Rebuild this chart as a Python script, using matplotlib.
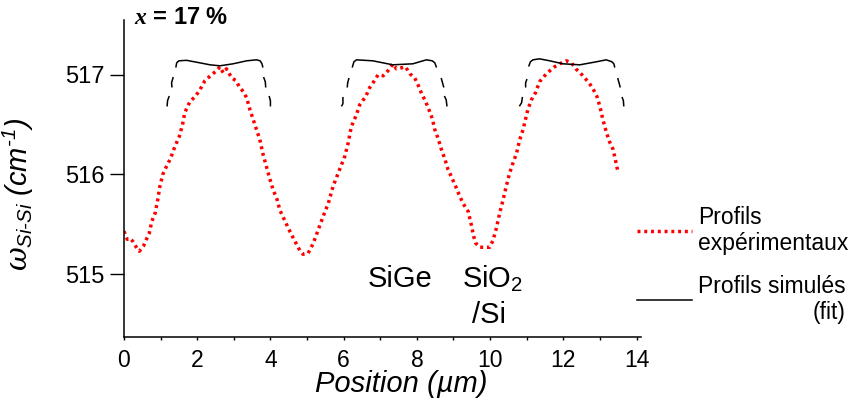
import numpy as np
import matplotlib
matplotlib.use("Agg")
import matplotlib.pyplot as plt

plt.rcParams['font.family'] = ['Liberation Sans', 'DejaVu Sans']
plt.rcParams['mathtext.fontset'] = 'custom'
plt.rcParams['mathtext.it'] = 'DejaVu Serif:italic'
plt.rcParams['mathtext.rm'] = 'Liberation Sans:italic'
plt.rcParams['mathtext.sf'] = 'Liberation Sans'
plt.rcParams['mathtext.bf'] = 'Liberation Serif:italic:bold'

nan = np.nan

# Experimental profile (red dotted)
exp_x = [0.0, 0.09, 0.16, 0.24, 0.32, 0.42, 0.53, 0.60, 0.69, 0.76, 0.85, 0.92, 0.98,
         1.06, 1.16, 1.27, 1.39, 1.51, 1.60, 1.66, 1.80, 1.94, 2.06, 2.21, 2.39, 2.53,
         2.62, 2.71, 2.80, 2.94, 3.06, 3.15, 3.26, 3.35, 3.44, 3.53, 3.62, 3.71, 3.80,
         3.89, 3.98, 4.07, 4.18, 4.26, 4.39, 4.53, 4.67, 4.80, 4.89, 5.03, 5.17, 5.30,
         5.44, 5.58, 5.71, 5.90, 6.03, 6.12, 6.21, 6.35, 6.44, 6.60, 6.71, 6.82, 6.94,
         7.08, 7.21, 7.35, 7.44, 7.58, 7.69, 7.81, 7.94, 8.03, 8.12, 8.24, 8.35, 8.42,
         8.49, 8.58, 8.67, 8.76, 8.85, 8.94, 9.06, 9.15, 9.26, 9.40, 9.49, 9.55, 9.61,
         9.72, 9.85, 9.99, 10.08, 10.17, 10.26, 10.35, 10.44, 10.53, 10.62, 10.72, 10.81,
         10.90, 10.97, 11.03, 11.13, 11.24, 11.35, 11.49, 11.63, 11.76, 11.90, 12.08,
         12.22, 12.34, 12.46, 12.58, 12.70, 12.81, 12.92, 13.00, 13.08, 13.17, 13.26,
         13.36, 13.43, 13.49]
exp_y = [515.43, 515.35, 515.36, 515.33, 515.28, 515.23, 515.28, 515.34, 515.41, 515.53,
         515.61, 515.74, 515.88, 516.00, 516.08, 516.16, 516.28, 516.38, 516.50, 516.62,
         516.73, 516.78, 516.84, 516.94, 517.00, 517.04, 517.08, 517.02, 517.06, 516.97,
         516.94, 516.88, 516.83, 516.77, 516.65, 516.55, 516.45, 516.35, 516.20, 516.08,
         515.96, 515.85, 515.75, 515.64, 515.54, 515.43, 515.33, 515.24, 515.20, 515.21,
         515.31, 515.44, 515.58, 515.71, 515.88, 516.06, 516.18, 516.31, 516.48, 516.60,
         516.70, 516.78, 516.87, 516.93, 517.00, 516.99, 517.04, 517.11, 517.06, 517.07,
         517.08, 517.01, 516.97, 516.90, 516.82, 516.73, 516.63, 516.56, 516.45, 516.36,
         516.25, 516.16, 516.05, 515.98, 515.88, 515.80, 515.71, 515.63, 515.49, 515.38,
         515.31, 515.27, 515.27, 515.27, 515.34, 515.46, 515.61, 515.74, 515.88, 516.01,
         516.11, 516.21, 516.35, 516.45, 516.56, 516.65, 516.75, 516.82, 516.93, 516.99,
         517.04, 517.08, 517.11, 517.14, 517.12, 517.06, 517.02, 516.97, 516.92, 516.86,
         516.78, 516.68, 516.55, 516.43, 516.33, 516.25, 516.13, 516.03]

# Simulated (fit) profiles, three SiGe lines; NaN = gaps in drawn curve
fit1_x = [1.18, 1.19, 1.23, nan, 1.31, 1.30, 1.34, nan,
          1.42, 1.44, 1.50, 1.71, 2.07, 2.35, 2.62, 2.98, 3.35, 3.62, 3.72, 3.77, 3.79, nan,
          3.82, 3.86, 3.87, nan, 3.97, 4.00, 4.00]
fit1_y = [516.69, 516.74, 516.78, nan, 516.88, 516.92, 516.97, nan,
          517.08, 517.12, 517.14, 517.145, 517.12, 517.10, 517.09, 517.11, 517.14, 517.15,
          517.14, 517.11, 517.08, nan,
          516.97, 516.93, 516.88, nan, 516.78, 516.74, 516.69]
fit2_x = [5.95, 5.98, 5.98, nan, 6.10, 6.11, 6.14, nan,
          6.24, 6.28, 6.35, 6.80, 7.34, 7.89, 8.26, 8.42, 8.49, 8.53, nan,
          8.67, 8.70, 8.73, nan, 8.76, 8.80, 8.82]
fit2_y = [516.69, 516.71, 516.77, nan, 516.88, 516.92, 516.96, nan,
          517.08, 517.13, 517.15, 517.14, 517.10, 517.11, 517.15, 517.14, 517.12, 517.08, nan,
          516.96, 516.92, 516.88, nan, 516.78, 516.75, 516.69]
fit3_x = [10.81, 10.86, 10.88, nan, 10.97, 10.97, 11.00, nan,
          11.06, 11.10, 11.17, 11.35, 11.63, 11.99, 12.45, 12.90, 13.17, 13.33, 13.38, 13.40, nan,
          13.49, 13.52, 13.55, nan, 13.61, 13.64, 13.65]
fit3_y = [516.69, 516.72, 516.77, nan, 516.88, 516.92, 516.95, nan,
          517.09, 517.13, 517.15, 517.16, 517.14, 517.11, 517.10, 517.13, 517.15, 517.13,
          517.11, 517.08, nan,
          516.96, 516.92, 516.88, nan, 516.77, 516.74, 516.69]

x_ticks = [0, 2, 4, 6, 8, 10, 12, 14]
y_ticks = [515, 516, 517]
label_exp = "Profils\nexpérimentaux"
label_fit = "Profils simulés\n(fit)"

fig = plt.figure(figsize=(8.52, 4.07), dpi=100)
ax = fig.add_axes([0.1455, 0.172, 0.6068, 0.779])

l_exp, = ax.plot(exp_x, exp_y, color='red', lw=2.5, linestyle=(0, (0.85, 1.1)),
                 label=label_exp)
l_fit, = ax.plot(fit1_x, fit1_y, color='black', lw=1.1, label=label_fit)
ax.plot(fit2_x, fit2_y, color='black', lw=1.1)
ax.plot(fit3_x, fit3_y, color='black', lw=1.1)

ax.set_xlim(0, 14.12)
ax.set_ylim(514.37, 517.55)
ax.set_xticks(x_ticks)
ax.set_xticks(np.arange(1, 14, 2), minor=True)
ax.set_yticks(y_ticks)
for s in ['top', 'right']:
    ax.spines[s].set_visible(False)
for s in ['left', 'bottom']:
    ax.spines[s].set_linewidth(1.1)
ax.tick_params(axis='y', which='major', length=10, width=1.0, pad=4, labelsize=17)
ax.tick_params(axis='x', which='both', length=2.5, width=1.0, pad=6, labelsize=16.5)

ax.set_xlabel("Position (µm)", fontsize=21, fontstyle='italic')
ax.xaxis.set_label_coords(0.536, -0.105)
ax.set_ylabel(r'$\omega_{\text{Si-Si}}$ (cm$^{\text{-1}}$)', fontsize=21, fontstyle='italic')
ax.yaxis.set_label_coords(-0.17, 0.45)

fig.text(0.157, 0.958, r'$\mathbf{x}$ = 17 %', fontsize=17, fontweight='bold',
         va='center', ha='left')

ax.text(7.53, 514.87, "SiGe", fontsize=21, ha='center', va='baseline')
ax.text(9.22, 514.87, r'SiO$_{\mathsf{2}}$', fontsize=21, ha='left', va='baseline')
ax.text(9.5, 514.51, "/Si", fontsize=21, ha='left', va='baseline', clip_on=False)

leg = ax.legend(handles=[l_exp, l_fit], loc='upper left',
                bbox_to_anchor=(0.7477, 0.495), bbox_transform=fig.transFigure,
                frameon=False, fontsize=16.5, borderpad=0, borderaxespad=0,
                handlelength=2.4, handletextpad=0.25, labelspacing=0.85)
leg.get_texts()[1].set_multialignment('right')

fig.savefig("out.png", dpi=100)
